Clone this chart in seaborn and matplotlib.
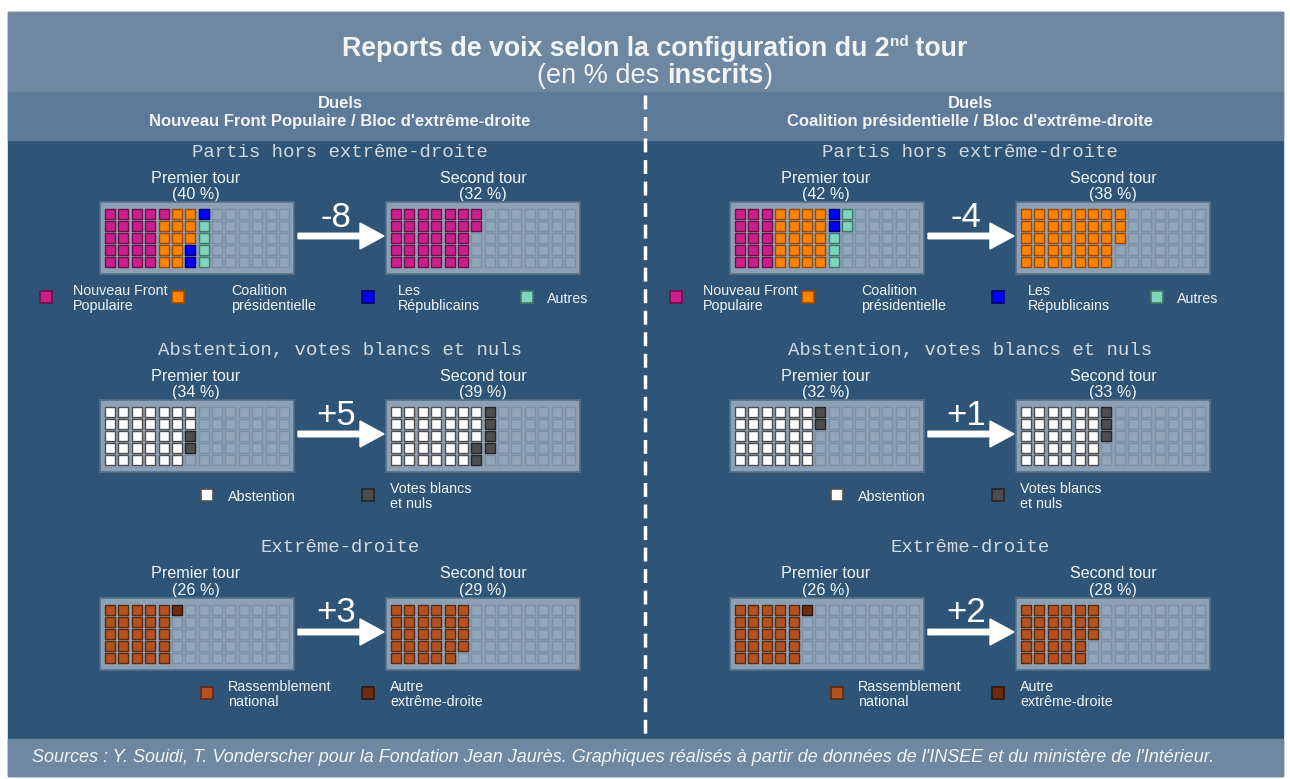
import matplotlib
matplotlib.use("Agg")
import matplotlib.pyplot as plt
import seaborn as sns
import pandas as pd
import numpy as np
from matplotlib.patches import Rectangle, FancyArrow

sns.set_theme(style="white")
plt.rcParams["font.family"] = ["Liberation Sans", "DejaVu Sans"]

# ---------------------------------------------------------------- data
section_titles = ["Partis hors extrême-droite",
                  "Abstention, votes blancs et nuls",
                  "Extrême-droite"]
panel_titles = ["Nouveau Front Populaire / Bloc d'extrême-droite",
                "Coalition présidentielle / Bloc d'extrême-droite"]

partis_labels = ["Nouveau Front\nPopulaire", "Coalition\nprésidentielle",
                 "Les\nRépublicains", "Autres"]
abst_labels = ["Abstention", "Votes blancs\net nuls"]
ed_labels = ["Rassemblement\nnational", "Autre\nextrême-droite"]

# one cell = 1 % des inscrits
nfp_partis_t1 = [21, 12, 3, 4]
nfp_partis_t2 = [32, 0, 0, 0]
nfp_abst_t1 = [32, 2]
nfp_abst_t2 = [33, 6]
nfp_ed_t1 = [25, 1]
nfp_ed_t2 = [29, 0]

ens_partis_t1 = [15, 20, 2, 5]
ens_partis_t2 = [0, 38, 0, 0]
ens_abst_t1 = [30, 2]
ens_abst_t2 = [30, 3]
ens_ed_t1 = [25, 1]
ens_ed_t2 = [28, 0]

source_text = ("Y. Souidi, T. Vonderscher pour la Fondation Jean Jaurès. Graphiques réalisés "
               "à partir de données de l'INSEE et du ministère de l'Intérieur.")

# ---------------------------------------------------------------- style
partis_colors = ["#cc1f8c", "#ff8200", "#0000ff", "#80d6bc"]
partis_edges = ["#6e1048", "#9a4a00", "#00006e", "#3f7a68"]
abst_colors = ["#ffffff", "#4d4d4d"]
abst_edges = ["#505050", "#262626"]
ed_colors = ["#b5521f", "#6c2c10"]
ed_edges = ["#5e2a0e", "#33160a"]

NAVY = "#2e5577"
BAND = "#6f88a1"
SUBBAND = "#5d7b98"
BOX = "#8ca1b6"
EMPTY_FACE = "#91a6ba"
EMPTY_EDGE = "#7a90a6"
TXT = "#f2f4f6"
SEC_TXT = "#d3d9df"

W, H = 1290, 779
fig = plt.figure(figsize=(W / 100, H / 100), dpi=100, facecolor="white")
bg = fig.add_axes([0, 0, 1, 1])
bg.set_xlim(0, W)
bg.set_ylim(H, 0)
bg.set_axis_off()
renderer = fig.canvas.get_renderer()


def px_axes(x, y, w, h):
    return fig.add_axes([x / W, 1 - (y + h) / H, w / W, h / H])


# bands
bg.add_patch(Rectangle((8, 12), 1275, 764, color=NAVY, zorder=0))
bg.add_patch(Rectangle((8, 12), 1275, 80, color=BAND, zorder=1))
bg.add_patch(Rectangle((8, 92), 1275, 48, color=SUBBAND, zorder=1))
bg.add_patch(Rectangle((8, 739), 1275, 37, color=BAND, zorder=1))


def text_width(s, **kw):
    t1 = bg.text(0, 0, "x" + s + "x", **kw)
    t2 = bg.text(0, 0, "xx", **kw)
    w = t1.get_window_extent(renderer).width - t2.get_window_extent(renderer).width
    t1.remove()
    t2.remove()
    return w


def rich_line(xc, y, parts):
    widths = [text_width(s, **kw) for s, kw, dy in parts]
    x = xc - sum(widths) / 2
    for (s, kw, dy), w in zip(parts, widths):
        bg.text(x, y + dy, s, ha="left", va="baseline", zorder=5, **kw)
        x += w


title_kw = dict(fontsize=19.3, fontweight="bold", color=TXT)
rich_line(655, 56, [("Reports de voix selon la configuration du 2", title_kw, 0),
                    ("nd", dict(fontsize=11, fontweight="bold", color=TXT), -10),
                    (" tour", title_kw, 0)])
sub_kw = dict(fontsize=19.5, color=TXT)
rich_line(655, 83, [("(en % des ", sub_kw, 0),
                    ("inscrits", dict(sub_kw, fontweight="bold"), 0),
                    (")", sub_kw, 0)])

# dashed divider
bg.plot([645, 645], [95, 735], color="white", lw=2.5, ls=(0, (4, 2.2)), zorder=4)

bg.text(32, 758, "Sources : " + source_text, fontsize=13.0, style="italic",
        color=TXT, ha="left", va="center", zorder=5)


def waffle(x, y, counts, colors, edges):
    ax = px_axes(x, y, 194, 72)
    ax.set_facecolor(BOX)
    idx = np.arange(70)
    cells = pd.DataFrame({"col": idx // 5, "row": idx % 5})
    cat = np.full(70, -1)
    cat[:sum(counts)] = np.repeat(np.arange(len(counts)), counts)
    cells["cat"] = cat
    groups = [(-1, EMPTY_FACE, EMPTY_EDGE)] + list(zip(range(len(counts)), colors, edges))
    for k, fc, ec in groups:
        sub = cells[cells["cat"] == k]
        if sub.empty:
            continue
        sns.scatterplot(data=sub, x="col", y="row", marker="s", s=44, color=fc,
                        edgecolor=ec, linewidth=1.0, ax=ax, legend=False, zorder=3)
    ax.set_xlim(-0.74, 13.74)
    ax.set_ylim(5.04, -1.04)
    ax.set_xticks([])
    ax.set_yticks([])
    ax.set_xlabel("")
    ax.set_ylabel("")
    for sp in ax.spines.values():
        sp.set_visible(True)
        sp.set_color("#566f88")
        sp.set_linewidth(1.2)
    return sum(counts)


def legend(items, y):
    for (xs, xl, label), fc, ec in items:
        bg.add_patch(Rectangle((xs - 6, y - 6), 12, 12, facecolor=fc, edgecolor=ec,
                               lw=1.2, zorder=5))
        bg.text(xl, y + 1.5, label, fontsize=10.3, color=TXT, ha="left", va="center",
                linespacing=1.15, zorder=5)


panels = [
    (0, [(nfp_partis_t1, nfp_partis_t2), (nfp_abst_t1, nfp_abst_t2), (nfp_ed_t1, nfp_ed_t2)]),
    (630, [(ens_partis_t1, ens_partis_t2), (ens_abst_t1, ens_abst_t2), (ens_ed_t1, ens_ed_t2)]),
]
sections = [
    (partis_labels, partis_colors, partis_edges, [46, 178, 368, 527], [73, 231, 398, 547]),
    (abst_labels, abst_colors, abst_edges, [207, 368], [228, 390]),
    (ed_labels, ed_colors, ed_edges, [207, 368], [228, 390]),
]

for p, (dx, data) in enumerate(panels):
    bg.text(340 + dx, 103, "Duels", fontsize=12, fontweight="bold", color=TXT,
            ha="center", va="center", zorder=5)
    bg.text(340 + dx, 121, panel_titles[p], fontsize=12, fontweight="bold", color=TXT,
            ha="center", va="center", zorder=5)
    for s, ((t1, t2), (labels, cols, eds, xs, xl)) in enumerate(zip(data, sections)):
        oy = 198 * s
        bg.text(340 + dx, 152 + oy, section_titles[s], family="Liberation Mono",
                fontsize=13.7, color=SEC_TXT, ha="center", va="center", zorder=5)
        n1 = waffle(100 + dx, 202 + oy, t1, cols, eds)
        n2 = waffle(386 + dx, 202 + oy, t2, cols, eds)
        for xc, name, n in [(196 + dx, "Premier tour", n1), (483 + dx, "Second tour", n2)]:
            bg.text(xc, 178 + oy, name, fontsize=11.6, color=TXT, ha="center", va="center", zorder=5)
            bg.text(xc, 194 + oy, f"({n} %)", fontsize=11.6, color=TXT, ha="center", va="center", zorder=5)
        ya = 236 + oy
        bg.add_patch(FancyArrow(298 + dx, ya, 86, 0, width=5.5, head_width=26, head_length=24,
                                length_includes_head=True, color="white", zorder=5))
        d = n2 - n1
        bg.text(336 + dx, ya - 19, f"{d:+d}", fontsize=25, color="white",
                ha="center", va="center", zorder=5)
        legend([((a + dx, b + dx, lab), fc, ec) for a, b, lab, fc, ec in zip(xs, xl, labels, cols, eds)],
               297 + oy)

fig.savefig("out.png", dpi=100, facecolor="white")
